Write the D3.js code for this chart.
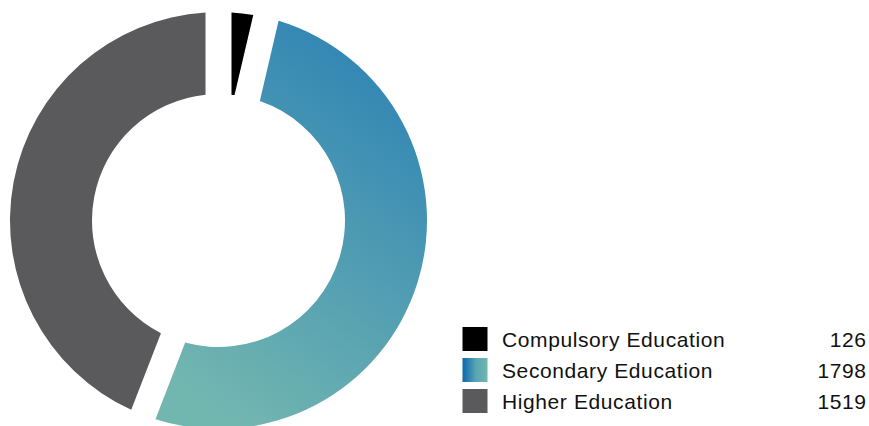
<!DOCTYPE html>
<html>
<head>
<meta charset="utf-8">
<script src="https://cdn.jsdelivr.net/npm/d3@7"></script>
<style>
  html, body { margin: 0; padding: 0; background: #fff; }
  svg { display: block; }
</style>
</head>
<body>
<svg id="chart" width="869" height="426"></svg>
<script>
// Education levels and counts
const categories = ["Compulsory Education", "Secondary Education", "Higher Education"];
const values = [126, 1798, 1519];
const fills = ["#000000", "url(#secGrad)", "#5a5a5c"];
const swatchFills = ["#000000", "url(#secSwatchGrad)", "#5a5a5c"];

const svg = d3.select("#chart");
const defs = svg.append("defs");

// diagonal blue-to-teal fill for the secondary slice
const g1 = defs.append("linearGradient")
  .attr("id", "secGrad")
  .attr("gradientUnits", "userSpaceOnUse")
  .attr("x1", 427).attr("y1", 12)
  .attr("x2", 200).attr("y2", 330);
g1.append("stop").attr("offset", "0%").attr("stop-color", "#3084b5");
g1.append("stop").attr("offset", "100%").attr("stop-color", "#72b6b0");

// horizontal version for the legend swatch
const g2 = defs.append("linearGradient")
  .attr("id", "secSwatchGrad")
  .attr("x1", "0%").attr("y1", "0%")
  .attr("x2", "100%").attr("y2", "0%");
g2.append("stop").attr("offset", "0%").attr("stop-color", "#0b68ad");
g2.append("stop").attr("offset", "55%").attr("stop-color", "#5aa6b2");
g2.append("stop").attr("offset", "100%").attr("stop-color", "#70b6b0");

const cx = 218.5, cy = 220.5;
const outerR = 208.5, innerR = 126.5;
const gapWidth = 26;

const pie = d3.pie().sort(null).value(d => d).startAngle(0).endAngle(2 * Math.PI);
const arc = d3.arc()
  .innerRadius(innerR)
  .outerRadius(outerR)
  .padRadius(outerR)
  .padAngle(gapWidth / outerR);

const g = svg.append("g").attr("transform", `translate(${cx},${cy})`);
g.selectAll("path")
  .data(pie(values))
  .join("path")
  .attr("d", arc)
  .attr("fill", (d, i) => fills[i]);

// legend
const rowY = d3.scalePoint().domain(categories).range([339, 401]);
const legend = svg.append("g");
const rows = legend.selectAll("g")
  .data(categories)
  .join("g")
  .attr("transform", d => `translate(0,${rowY(d)})`);

rows.append("rect")
  .attr("x", 462.5).attr("y", -12)
  .attr("width", 25).attr("height", 24)
  .attr("fill", (d, i) => swatchFills[i]);

const font = "'Liberation Sans', Arial, Helvetica, sans-serif";

rows.append("text")
  .attr("x", 502)
  .attr("y", 8)
  .attr("font-family", font)
  .attr("font-size", 21)
  .attr("letter-spacing", "0.6px")
  .attr("fill", "#111")
  .text(d => d);

rows.append("text")
  .attr("x", 866.6)
  .attr("y", 8)
  .attr("text-anchor", "end")
  .attr("font-family", font)
  .attr("font-size", 21)
  .attr("letter-spacing", "0.6px")
  .attr("fill", "#111")
  .text((d, i) => values[i]);
</script>
</body>
</html>
